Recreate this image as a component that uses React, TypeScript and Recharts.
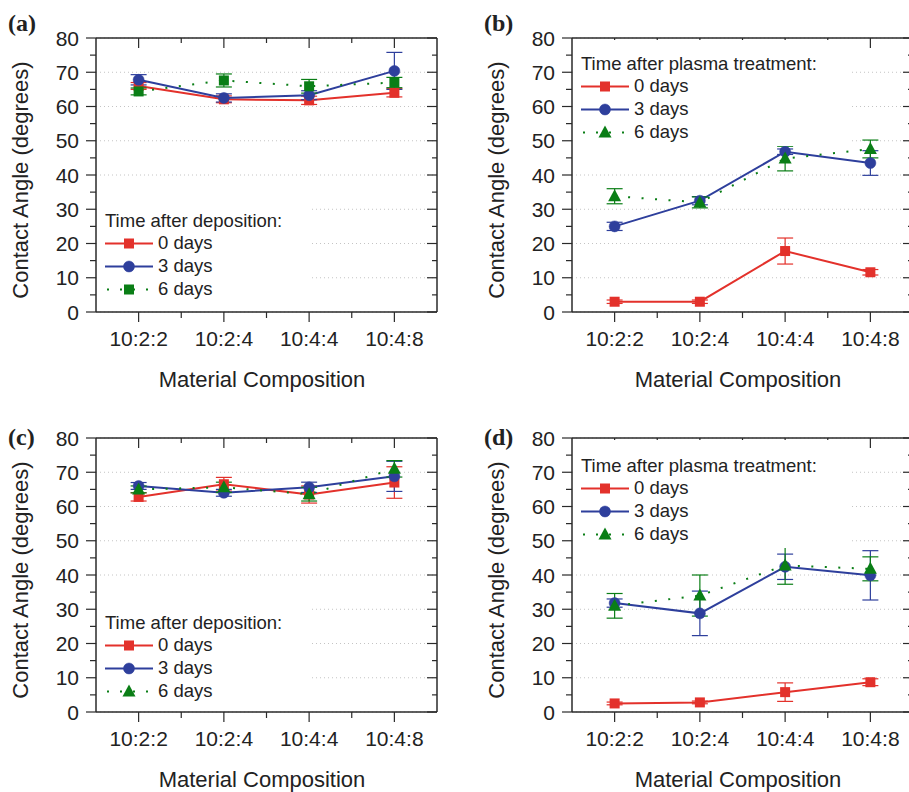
import React from "react";
import { LineChart, Line, XAxis, YAxis, CartesianGrid, ErrorBar } from "recharts";

const categories = ["10:2:2", "10:2:4", "10:4:4", "10:4:8"];
const yTicks = [0, 10, 20, 30, 40, 50, 60, 70, 80];
const seriesLabels = ["0 days", "3 days", "6 days"];

// (a) time after deposition
const a0 = [66.0, 62.1, 61.8, 64.0];
const a0Err = [1.0, 1.0, 1.2, 1.2];
const a3 = [67.8, 62.5, 63.3, 70.4];
const a3Err = [1.5, 1.2, 1.3, 5.4];
const a6 = [64.4, 67.6, 65.9, 67.0];
const a6Err = [1.0, 1.9, 2.0, 1.5];

// (b) time after plasma treatment
const b0 = [3.0, 3.0, 17.8, 11.6];
const b0Err = [0.5, 0.5, 3.8, 0.8];
const b3 = [25.0, 32.5, 46.8, 43.5];
const b3Err = [1.2, 1.2, 0.8, 3.6];
const b6 = [33.8, 32.0, 44.8, 47.6];
const b6Err = [2.2, 1.6, 3.6, 2.6];

// (c) time after deposition
const c0 = [62.8, 66.5, 63.5, 67.0];
const c0Err = [1.2, 2.0, 2.5, 4.6];
const c3 = [66.0, 64.0, 65.6, 68.8];
const c3Err = [1.0, 1.0, 1.5, 4.4];
const c6 = [65.0, 65.6, 63.6, 71.0];
const c6Err = [1.0, 1.5, 2.0, 2.4];

// (d) time after plasma treatment
const d0 = [2.5, 2.8, 5.8, 8.7];
const d0Err = [0.4, 0.4, 2.7, 1.0];
const d3 = [31.8, 28.8, 42.4, 39.9];
const d3Err = [1.2, 6.5, 3.7, 7.2];
const d6 = [31.0, 34.0, 42.8, 41.8];
const d6Err = [3.6, 6.0, 5.5, 3.5];

const RED = "#e3312b";
const BLUE = "#2e3f9c";
const GREEN = "#0a7e16";
const AXIS = "#2a2a2a";
const FONT = "'Liberation Sans', Arial, Helvetica, sans-serif";

// chart box and plot area (chart coords)
const CW = 460;
const CH = 400;
const PL = 96;
const PR = 437;
const PT = 38;
const PB = 312;
const PH = PB - PT;
const PW = PR - PL;
const BAND = PW / categories.length;

function buildRows(v0: number[], e0: number[], v3: number[], e3: number[], v6: number[], e6: number[]) {
  return categories.map((name, i) => ({
    name,
    d0: v0[i],
    d0e: e0[i],
    d3: v3[i],
    d3e: e3[i],
    d6: v6[i],
    d6e: e6[i],
  }));
}

type Shape = "square" | "circle" | "triangle";

function Marker({ shape, cx, cy, color }: { shape: Shape; cx: number; cy: number; color: string }) {
  if (shape === "circle") return <circle cx={cx} cy={cy} r={5.5} fill={color} stroke={color} strokeWidth={0.5} />;
  if (shape === "triangle")
    return <polygon points={`${cx},${cy - 7} ${cx + 6.5},${cy + 5} ${cx - 6.5},${cy + 5}`} fill={color} />;
  return <rect x={cx - 5} y={cy - 5} width={10} height={10} fill={color} />;
}

const LeftTick = (props: any) => {
  const { x, y, payload, index } = props;
  const step = PH / (yTicks.length - 1);
  return (
    <g>
      <line x1={x - 10} x2={x} y1={y} y2={y} stroke={AXIS} strokeWidth={1.2} />
      {index > 0 && <line x1={x - 6} x2={x} y1={y + step / 2} y2={y + step / 2} stroke={AXIS} strokeWidth={1.2} />}
      <text x={x - 17} y={y} dy="0.36em" textAnchor="end" fontSize={21} fill="#222">
        {payload.value}
      </text>
    </g>
  );
};

const RightTick = (props: any) => {
  const { x, y, index } = props;
  const step = PH / (yTicks.length - 1);
  return (
    <g>
      <line x1={x - 10} x2={x} y1={y} y2={y} stroke={AXIS} strokeWidth={1.2} />
      {index > 0 && <line x1={x - 5} x2={x} y1={y + step / 2} y2={y + step / 2} stroke={AXIS} strokeWidth={1.2} />}
    </g>
  );
};

const BottomTick = (props: any) => {
  const { x, y, payload, index } = props;
  return (
    <g>
      <line x1={x} x2={x} y1={y} y2={y + 10} stroke={AXIS} strokeWidth={1.2} />
      {index > 0 && <line x1={x - BAND / 2} x2={x - BAND / 2} y1={y} y2={y + 6} stroke={AXIS} strokeWidth={1.2} />}
      <text x={x} y={y + 34} textAnchor="middle" fontSize={21} fill="#222">
        {payload.value}
      </text>
    </g>
  );
};

const TopTick = (props: any) => {
  const { x, y, index } = props;
  return (
    <g>
      <line x1={x} x2={x} y1={y} y2={y + 10} stroke={AXIS} strokeWidth={1.2} />
      {index > 0 && <line x1={x - BAND / 2} x2={x - BAND / 2} y1={y} y2={y + 5} stroke={AXIS} strokeWidth={1.2} />}
    </g>
  );
};

function LegendBox({
  title,
  center,
  boxTop,
  boxBottom,
  width,
  shapes,
}: {
  title: string;
  center: number;
  boxTop: number;
  boxBottom: number;
  width: number;
  shapes: Shape[];
}) {
  const colors = [RED, BLUE, GREEN];
  return (
    <div
      style={{
        position: "absolute",
        left: PL + 1,
        top: boxTop,
        width,
        height: boxBottom - boxTop,
        background: "#fff",
        fontSize: 18.5,
        color: "#222",
        fontFamily: FONT,
      }}
    >
      <div style={{ position: "absolute", left: 8, top: center - 11.5 - boxTop }}>
        <div style={{ lineHeight: "23px", whiteSpace: "nowrap" }}>{title}</div>
        {seriesLabels.map((lab, i) => (
          <div key={lab} style={{ display: "flex", alignItems: "center", height: 23 }}>
            <svg width={48} height={23} style={{ display: "block" }}>
              <line
                x1={0}
                x2={48}
                y1={11.5}
                y2={11.5}
                stroke={colors[i]}
                strokeWidth={2}
                strokeDasharray={i === 2 ? "2 11" : undefined}
                strokeDashoffset={i === 2 ? -2 : undefined}
              />
              <Marker shape={shapes[i]} cx={24} cy={11.5} color={colors[i]} />
            </svg>
            <span style={{ marginLeft: 5, whiteSpace: "nowrap" }}>{lab}</span>
          </div>
        ))}
      </div>
    </div>
  );
}

function Panel({
  left,
  top,
  label,
  labelTop,
  rows,
  shapes,
  legendTitle,
  legendCenter,
  boxTop,
  boxBottom,
  boxWidth,
}: {
  left: number;
  top: number;
  label: string;
  labelTop: number;
  rows: any[];
  shapes: Shape[];
  legendTitle: string;
  legendCenter: number;
  boxTop: number;
  boxBottom: number;
  boxWidth: number;
}) {
  const colors = [RED, BLUE, GREEN];
  const keys = ["d0", "d3", "d6"];
  const pad = { left: BAND / 2, right: BAND / 2 };
  return (
    <div style={{ position: "absolute", left, top, width: CW, height: CH, fontFamily: FONT }}>
      <LineChart width={CW} height={CH} data={rows} margin={{ top: 28, right: 13, bottom: 28, left: 6 }}>
        <CartesianGrid horizontal vertical={false} stroke="#c4c4c4" strokeDasharray="1 3" />
        <XAxis
          dataKey="name"
          type="category"
          height={60}
          padding={pad}
          interval={0}
          tickSize={0}
          tickMargin={0}
          tickLine={false}
          tick={BottomTick}
          axisLine={{ stroke: AXIS, strokeWidth: 1.5 }}
          label={{
            value: "Material Composition",
            content: () => (
              <text x={262} y={387} textAnchor="middle" fontSize={22} fill="#222">
                Material Composition
              </text>
            ),
          }}
        />
        <XAxis
          xAxisId="top"
          orientation="top"
          dataKey="name"
          type="category"
          height={10}
          padding={pad}
          interval={0}
          tickSize={0}
          tickMargin={0}
          tickLine={false}
          tick={TopTick}
          axisLine={{ stroke: AXIS, strokeWidth: 1.5 }}
        />
        <YAxis
          type="number"
          domain={[0, 80]}
          ticks={yTicks}
          width={90}
          interval={0}
          tickSize={0}
          tickMargin={0}
          tickLine={false}
          tick={LeftTick}
          allowDataOverflow
          axisLine={{ stroke: AXIS, strokeWidth: 1.5 }}
          label={{
            value: "Contact Angle (degrees)",
            content: () => (
              <text
                x={20}
                y={180}
                textAnchor="middle"
                dominantBaseline="central"
                fontSize={22}
                fill="#222"
                transform={`rotate(-90 20 180)`}
              >
                Contact Angle (degrees)
              </text>
            ),
          }}
        />
        <YAxis
          yAxisId="r"
          orientation="right"
          type="number"
          domain={[0, 80]}
          ticks={yTicks}
          width={10}
          interval={0}
          tickSize={0}
          tickMargin={0}
          tickLine={false}
          tick={RightTick}
          allowDataOverflow
          axisLine={{ stroke: AXIS, strokeWidth: 1.5 }}
        />
        {keys.map((k, i) => (
          <Line
            key={k}
            type="linear"
            dataKey={k}
            stroke={colors[i]}
            strokeWidth={2}
            strokeDasharray={i === 2 ? "2 11.5" : undefined}
            isAnimationActive={false}
            activeDot={false}
            dot={(p: any) => <Marker key={`${k}-${p.index}`} shape={shapes[i]} cx={p.cx} cy={p.cy} color={colors[i]} />}
          >
            <ErrorBar dataKey={`${k}e`} width={8} stroke={colors[i]} strokeWidth={1.2} direction="y" />
          </Line>
        ))}
      </LineChart>
      <LegendBox
        title={legendTitle}
        center={legendCenter}
        boxTop={boxTop}
        boxBottom={boxBottom}
        width={boxWidth}
        shapes={shapes}
      />
      <div
        style={{
          position: "absolute",
          left: 8,
          top: labelTop,
          fontFamily: "'Liberation Serif', 'Times New Roman', serif",
          fontWeight: "bold",
          fontSize: 24,
          lineHeight: "24px",
          color: "#222",
        }}
      >
        {label}
      </div>
    </div>
  );
}

export default function App() {
  return (
    <div
      style={{
        position: "absolute",
        left: 0,
        top: 0,
        width: 909,
        height: 792,
        overflow: "hidden",
        background: "#fff",
      }}
    >
      <Panel
        left={0}
        top={0}
        label="(a)"
        labelTop={11}
        rows={buildRows(a0, a0Err, a3, a3Err, a6, a6Err)}
        shapes={["square", "circle", "square"]}
        legendTitle="Time after deposition:"
        legendCenter={220}
        boxTop={204}
        boxBottom={311}
        boxWidth={212}
      />
      <Panel
        left={476}
        top={0}
        label="(b)"
        labelTop={11}
        rows={buildRows(b0, b0Err, b3, b3Err, b6, b6Err)}
        shapes={["square", "circle", "triangle"]}
        legendTitle="Time after plasma treatment:"
        legendCenter={63}
        boxTop={40}
        boxBottom={146}
        boxWidth={276}
      />
      <Panel
        left={0}
        top={400}
        label="(c)"
        labelTop={25}
        rows={buildRows(c0, c0Err, c3, c3Err, c6, c6Err)}
        shapes={["square", "circle", "triangle"]}
        legendTitle="Time after deposition:"
        legendCenter={222}
        boxTop={206}
        boxBottom={311}
        boxWidth={212}
      />
      <Panel
        left={476}
        top={400}
        label="(d)"
        labelTop={25}
        rows={buildRows(d0, d0Err, d3, d3Err, d6, d6Err)}
        shapes={["square", "circle", "triangle"]}
        legendTitle="Time after plasma treatment:"
        legendCenter={65}
        boxTop={40}
        boxBottom={148}
        boxWidth={276}
      />
    </div>
  );
}
